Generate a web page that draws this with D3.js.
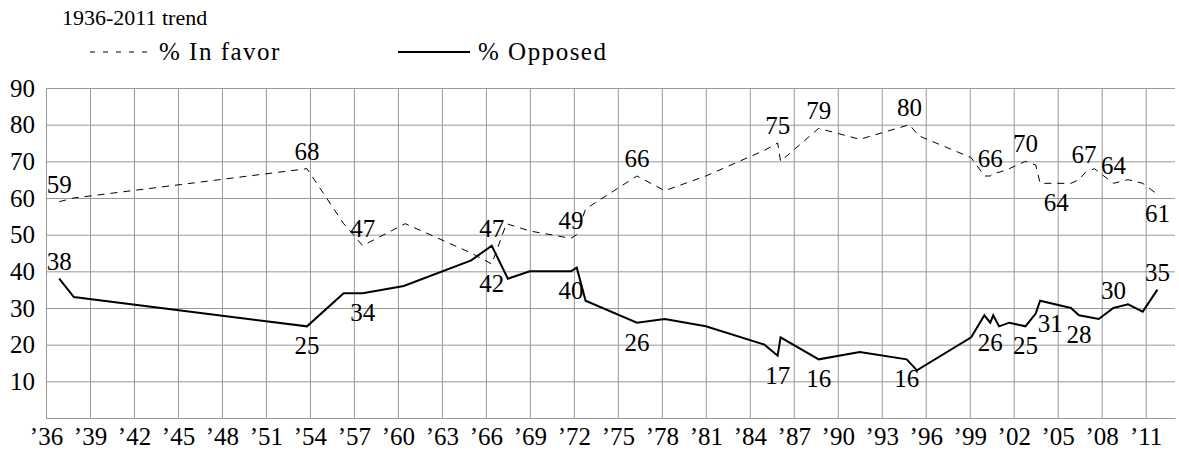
<!DOCTYPE html>
<meta charset="utf-8">
<script src="https://d3js.org/d3.v7.min.js"></script>
<style>
  body { margin: 0; background: #fff; }
  text { font-family: "Liberation Serif", "DejaVu Serif", serif; fill: #000; }
</style>
<div id="my_dataviz"></div>
<script>

// poll values (x = year with month fraction)
var favorYears = [1936.9, 1937.9, 1953.8, 1956.3, 1957.6, 1960.5, 1965.0, 1966.4, 1967.4, 1969.0,
  1971.8, 1972.2, 1972.8, 1976.3, 1978.2, 1981.0, 1985.0, 1985.9, 1986.1, 1988.7,
  1991.5, 1994.9, 1995.5, 1999.1, 2000.0, 2000.4, 2000.7, 2001.0, 2001.7, 2002.8,
  2003.5, 2003.8, 2004.9, 2005.9, 2006.45, 2006.9, 2007.5, 2008.8, 2009.8, 2010.8, 2011.8]
var favorValues = [59, 60, 68, 53, 47, 53, 45, 42, 53, 51,
  49, 50, 57, 66, 62, 66, 73, 75, 70, 79,
  76, 80, 77, 71, 66, 66, 67, 67, 68, 70,
  69, 64, 64, 64, 65, 67, 68, 64, 65, 64, 61]

var opposedYears = [1936.9, 1937.9, 1953.8, 1956.3, 1957.6, 1960.4, 1965.0, 1966.4, 1967.5, 1969.0,
  1971.8, 1972.2, 1972.8, 1976.3, 1978.2, 1981.0, 1985.0, 1985.9, 1986.1, 1988.7,
  1991.5, 1994.7, 1995.4, 1999.1, 2000.0, 2000.4, 2000.6, 2001.0, 2001.7, 2002.8,
  2003.5, 2003.8, 2005.9, 2006.45, 2007.8, 2008.8, 2009.8, 2010.8, 2011.8]
var opposedValues = [38, 33, 25, 34, 34, 36, 43, 47, 38, 40,
  40, 41, 32, 26, 27, 25, 20, 17, 22, 16,
  18, 16, 13, 22, 28, 26, 28, 25, 26, 25,
  28.5, 32, 30, 28, 27, 30, 31, 29, 35]

// labelled points
var favorLabelYears = [1936.9, 1953.8, 1957.6, 1966.4, 1971.8, 1976.3, 1985.9, 1988.7, 1994.9, 2000.4, 2002.8, 2004.9, 2006.8, 2008.8, 2011.8]
var favorLabelValues = [59, 68, 47, 42, 49, 66, 75, 79, 80, 66, 70, 64, 67, 64, 61]
var opposedLabelYears = [1936.9, 1953.8, 1957.6, 1966.4, 1971.8, 1976.3, 1985.9, 1988.7, 1994.7, 2000.4, 2002.8, 2004.5, 2006.45, 2008.8, 2011.8]
var opposedLabelValues = [38, 25, 34, 47, 40, 26, 17, 16, 16, 26, 25, 31, 28, 30, 35]

// x tick years and y ticks
var yearTicks = d3.range(1936, 2012, 3)
var valueTicks = [0, 10, 20, 30, 40, 50, 60, 70, 80, 90]

// label above (1) or below (0) its point
var favorLabelUp = [1, 1, 1, 0, 1, 1, 1, 1, 1, 1, 1, 0, 1, 1, 0]
var opposedLabelUp = [1, 0, 0, 1, 0, 0, 0, 0, 0, 0, 0, 0, 0, 1, 1]

var width = 1179
    height = 452
    margin = {top: 88, right: 4, bottom: 34, left: 46}
var fontSize = 25

var svg = d3.select("#my_dataviz")
  .append("svg")
  .attr("width", width)
  .attr("height", height)

var x = d3.scaleLinear()
  .domain([1936, 2013])
  .range([margin.left, width - margin.right])

var y = d3.scaleLinear()
  .domain([0, 90])
  .range([height - margin.bottom, margin.top])

// grid + axes
var xAxis = svg.append("g")
  .attr("transform", "translate(0," + y(0) + ")")
  .call(d3.axisBottom(x)
    .tickValues(yearTicks)
    .tickSizeInner(-(y(0) - y(90)))
    .tickSizeOuter(0)
    .tickPadding(9)
    .tickFormat(function(d) { return "\u2019" + String(d).slice(2) }))

var yAxis = svg.append("g")
  .attr("transform", "translate(" + x(1936) + ",0)")
  .call(d3.axisLeft(y)
    .tickValues(valueTicks)
    .tickSizeInner(-(x(2013) - x(1936)))
    .tickSizeOuter(0)
    .tickPadding(11)
    .tickFormat(function(d) { return d == 0 ? "" : d }))

svg.selectAll(".domain").attr("stroke", "#999").attr("stroke-width", 1)
svg.selectAll(".tick line").attr("stroke", "#999").attr("stroke-width", 1)
svg.selectAll(".tick text")
  .style("font-family", '"Liberation Serif", serif')
  .style("font-size", fontSize + "px")
  .attr("fill", "#000")

// lines
var line = d3.line()
  .x(function(d) { return x(d[0]) })
  .y(function(d) { return y(d[1]) })

svg.append("path")
  .datum(d3.zip(favorYears, favorValues))
  .attr("d", line)
  .attr("fill", "none")
  .attr("stroke", "#000")
  .attr("stroke-width", 1)
  .attr("stroke-dasharray", "7,6")

svg.append("path")
  .datum(d3.zip(opposedYears, opposedValues))
  .attr("d", line)
  .attr("fill", "none")
  .attr("stroke", "#000")
  .attr("stroke-width", 2)
  .attr("stroke-linejoin", "miter")

// value labels
function addLabels(years, values, up) {
  svg.append("g")
    .selectAll("text")
    .data(d3.zip(years, values, up))
    .enter()
    .append("text")
    .attr("x", function(d) { return x(d[0]) })
    .attr("y", function(d) { return y(d[1]) + (d[2] ? -9 : 28) })
    .attr("text-anchor", "middle")
    .style("font-size", fontSize + "px")
    .text(function(d) { return d[1] })
}
addLabels(favorLabelYears, favorLabelValues, favorLabelUp)
addLabels(opposedLabelYears, opposedLabelValues, opposedLabelUp)

// legend
svg.append("text")
  .attr("x", 62)
  .attr("y", 25)
  .style("font-size", "22px")
  .text("1936-2011 trend")

svg.append("line")
  .attr("x1", 90).attr("x2", 152)
  .attr("y1", 52).attr("y2", 52)
  .attr("stroke", "#000")
  .attr("stroke-dasharray", "5,8")

svg.append("text")
  .attr("x", 159)
  .attr("y", 60)
  .style("font-size", fontSize + "px")
  .style("letter-spacing", "1.5px")
  .text("% In favor")

svg.append("line")
  .attr("x1", 398).attr("x2", 470)
  .attr("y1", 52).attr("y2", 52)
  .attr("stroke", "#000")
  .attr("stroke-width", 2)

svg.append("text")
  .attr("x", 478)
  .attr("y", 60)
  .style("font-size", fontSize + "px")
  .style("letter-spacing", "1.5px")
  .text("% Opposed")

</script>
